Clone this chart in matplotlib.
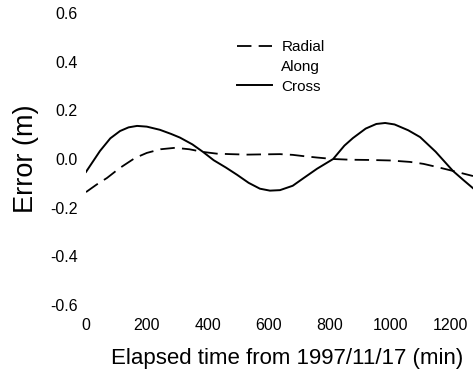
import matplotlib
matplotlib.use("Agg")
import matplotlib.pyplot as plt
from matplotlib.lines import Line2D

plt.rcParams['font.family'] = ['Liberation Sans', 'DejaVu Sans']

# Cross (solid) error
t_cross = [0, 46, 80, 112, 140, 168, 200, 243, 280, 309, 350, 385, 420, 460,
           497, 535, 572, 605, 638, 680, 714, 760, 813, 850, 878, 920, 955,
           984, 1015, 1060, 1099, 1150, 1207, 1240, 1273]
e_cross = [-0.053, 0.033, 0.085, 0.115, 0.130, 0.136, 0.133, 0.120, 0.103,
           0.088, 0.060, 0.029, -0.005, -0.035, -0.065, -0.098, -0.122,
           -0.130, -0.128, -0.110, -0.080, -0.040, 0.000, 0.055, 0.086,
           0.125, 0.144, 0.148, 0.142, 0.118, 0.090, 0.030, -0.049, -0.085,
           -0.120]

# Radial (dashed) error
t_radial = [0, 35, 69, 110, 161, 200, 245, 293, 340, 385, 430, 474, 530, 580,
            638, 680, 714, 760, 813, 870, 934, 1000, 1066, 1110, 1155, 1207,
            1273]
e_radial = [-0.136, -0.105, -0.078, -0.038, 0.004, 0.025, 0.040, 0.046,
            0.040, 0.029, 0.022, 0.020, 0.018, 0.019, 0.020, 0.017, 0.012,
            0.006, 0.000, -0.003, -0.004, -0.006, -0.012, -0.020, -0.033,
            -0.049, -0.070]

xticks = [0, 200, 400, 600, 800, 1000, 1200]
yticks = [-0.6, -0.4, -0.2, 0.0, 0.2, 0.4, 0.6]

fig = plt.figure(figsize=(4.73, 3.69), dpi=100)
ax = fig.add_axes([86/473, 1 - 305/369, 1 - 86/473, (305 - 13)/369])

dash = (8.0, 4.0)
ax.plot(t_radial, e_radial, color='black', lw=1.3, dashes=dash)
ax.plot(t_cross, e_cross, color='black', lw=1.4)

ax.set_xlim(0, 1273)
ax.set_ylim(-0.6, 0.6)
ax.set_xticks(xticks)
ax.set_yticks(yticks)
ax.set_yticklabels([f"{v:.1f}" for v in yticks])
ax.tick_params(axis='both', length=0, labelsize=11.5)
ax.tick_params(axis='y', pad=6)
ax.tick_params(axis='x', pad=9)
for s in ax.spines.values():
    s.set_visible(False)

ax.set_xlabel("Elapsed time from 1997/11/17 (min)", fontsize=16, labelpad=11)
ax.xaxis.label.set_x(0.519)
ax.set_ylabel("Error (m)", fontsize=19.5, labelpad=8)

handles = [Line2D([], [], color='black', lw=1.3, dashes=dash),
           Line2D([], [], color='none'),
           Line2D([], [], color='black', lw=1.4)]
fig.legend(handles, ["Radial", "Along", "Cross"], loc='upper left',
           bbox_to_anchor=(237/473, 1 - 40/369), frameon=False, fontsize=11,
           handlelength=2.3, handletextpad=0.6, labelspacing=0.38,
           borderpad=0, borderaxespad=0)

fig.savefig("out.png", dpi=100)
